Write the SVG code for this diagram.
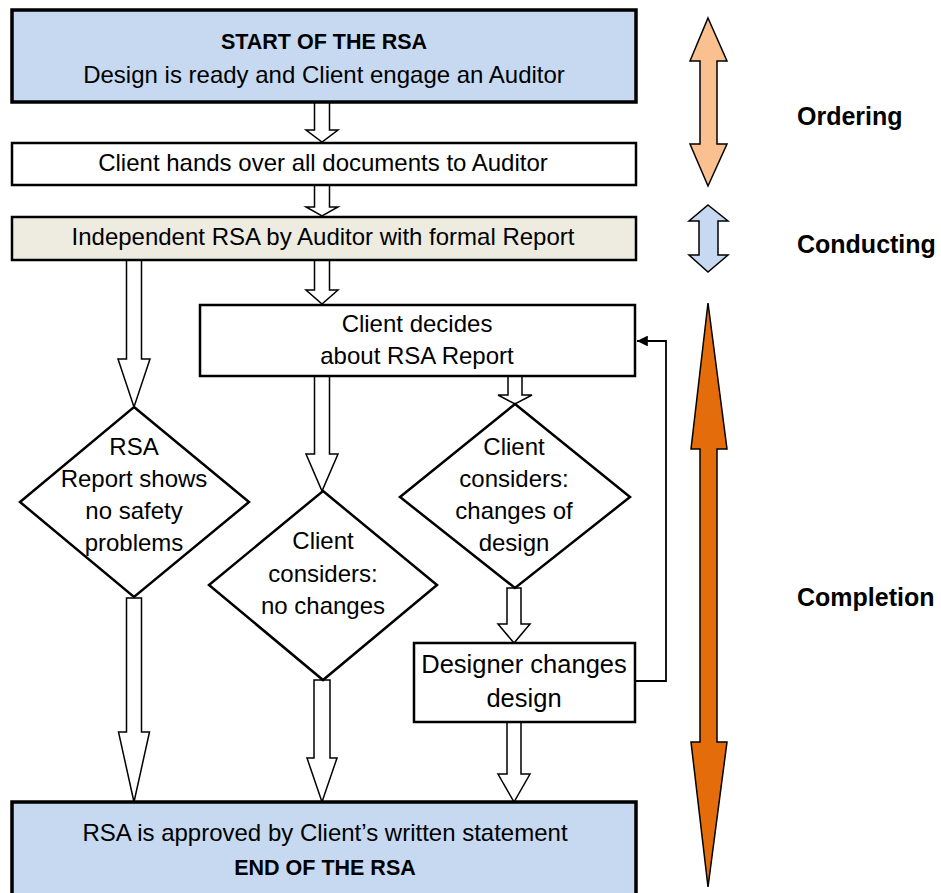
<svg xmlns="http://www.w3.org/2000/svg" width="941" height="893" viewBox="0 0 941 893">
<defs>
<style>
.t{font-family:"Liberation Sans",Arial,sans-serif;font-size:24px;fill:#000;text-anchor:middle}
.b{font-family:"Liberation Sans",Arial,sans-serif;font-size:21.5px;font-weight:bold;fill:#000;text-anchor:middle}
.lab{font-family:"Liberation Sans",Arial,sans-serif;font-size:25px;font-weight:bold;fill:#000}
.thick{stroke:#000;stroke-width:3.5}
.box{fill:#fff;stroke:#000;stroke-width:2.5}
.dia{fill:#fff;stroke:#000;stroke-width:2.5}
.blk{fill:#fff;stroke:#000;stroke-width:1.5;stroke-linejoin:miter}
.dbl{stroke:#000;stroke-width:1.5}
</style>
<marker id="ah" viewBox="0 0 10 10" refX="10" refY="5" markerWidth="6" markerHeight="6" orient="auto" markerUnits="strokeWidth">
<path d="M0,0 L10,5 L0,10 z" fill="#000"/>
</marker>
</defs>
<rect width="941" height="893" fill="#fff"/>

<g id="connectors">
<polygon class="blk" points="314.5,102 329.5,102 329.5,130 338,130 322,142 306,130 314.5,130"/>
<polygon class="blk" points="314.5,185 329.5,185 329.5,207 338,207 322,216 306,207 314.5,207"/>
<polygon class="blk" points="314.5,260 329.5,260 329.5,290 338,290 322,304 306,290 314.5,290"/>
<polygon class="blk" points="126.5,260 141.5,260 141.5,359 150,359 134,407 118,359 126.5,359"/>
<polygon class="blk" points="314.5,376 329.5,376 329.5,454 338,454 322,491 306,454 314.5,454"/>
<polygon class="blk" points="508,376 522,376 522,395 532,395 515,404 498,395 508,395"/>
<polygon class="blk" points="507,588 521,588 521,624 530,624 514,643 498,624 507,624"/>
<polygon class="blk" points="126.5,598 141.5,598 141.5,732 149.5,732 134,802 118.5,732 126.5,732"/>
<polygon class="blk" points="314,680 330,680 330,758 337,758 322,802 307,758 314,758"/>
<polygon class="blk" points="507,722 521,722 521,774 530,774 514,802 498,774 507,774"/>
<polyline points="635,681 666,681 666,341 637,341" fill="none" stroke="#000" stroke-width="1.8" marker-end="url(#ah)"/>
</g>

<g id="start">
<rect x="12" y="10" width="624" height="92" fill="#c6d9f1" class="thick"/>
<text class="b" x="324" y="49">START OF THE RSA</text>
<text class="t" x="324" y="83">Design is ready and Client engage an Auditor</text>
</g>

<g id="handover">
<rect x="12" y="143" width="624" height="42" class="box"/>
<text class="t" x="323" y="171">Client hands over all documents to Auditor</text>
</g>

<g id="independent">
<rect x="12" y="217" width="624" height="43" fill="#eeece1" stroke="#000" stroke-width="2.5"/>
<text class="t" x="323" y="245">Independent RSA by Auditor with formal Report</text>
</g>

<g id="decides">
<rect x="200" y="305" width="435" height="71" class="box"/>
<text class="t" x="417" y="332">Client decides</text>
<text class="t" x="417" y="364">about RSA Report</text>
</g>

<g id="noproblems">
<polygon class="dia" points="134,407 249,502 134,597 20,502"/>
<text class="t" x="134" y="455">RSA</text>
<text class="t" x="134" y="487">Report shows</text>
<text class="t" x="134" y="519">no safety</text>
<text class="t" x="134" y="551">problems</text>
</g>

<g id="nochanges">
<polygon class="dia" points="323,491 437,585 323,680 209,585"/>
<text class="t" x="323" y="549">Client</text>
<text class="t" x="323" y="582">considers:</text>
<text class="t" x="323" y="614">no changes</text>
</g>

<g id="changes">
<polygon class="dia" points="515,404 630,497 515,588 400,497"/>
<text class="t" x="514" y="455">Client</text>
<text class="t" x="514" y="487">considers:</text>
<text class="t" x="514" y="519">changes of</text>
<text class="t" x="514" y="551">design</text>
</g>

<g id="designer">
<rect x="414" y="643" width="221" height="79" class="box"/>
<text class="t" x="524" y="673" style="font-size:25.5px">Designer changes</text>
<text class="t" x="524" y="707" style="font-size:25.5px">design</text>
</g>

<g id="end">
<rect x="12" y="802" width="624" height="100" fill="#c6d9f1" class="thick"/>
<text class="t" x="325" y="841">RSA is approved by Client’s written statement</text>
<text class="b" x="325" y="875">END OF THE RSA</text>
</g>

<g id="ordering">
<polygon class="dbl" fill="#fac090" points="708,18 727,61 717,61 717,144 727,144 708,186 690,144 700,144 700,61 690,61"/>
<text class="lab" x="797" y="125">Ordering</text>
</g>

<g id="conducting">
<polygon class="dbl" fill="#c6d9f1" points="708,205 728,221 718,221 718,255 728,255 708,272 689,255 699,255 699,221 689,221"/>
<text class="lab" x="797" y="253">Conducting</text>
</g>

<g id="completion">
<polygon class="dbl" fill="#e46c0a" points="708,303 727,449 717,449 717,742 727,742 708,887 691,742 700,742 700,449 691,449"/>
<text class="lab" x="797" y="606">Completion</text>
</g>
</svg>
